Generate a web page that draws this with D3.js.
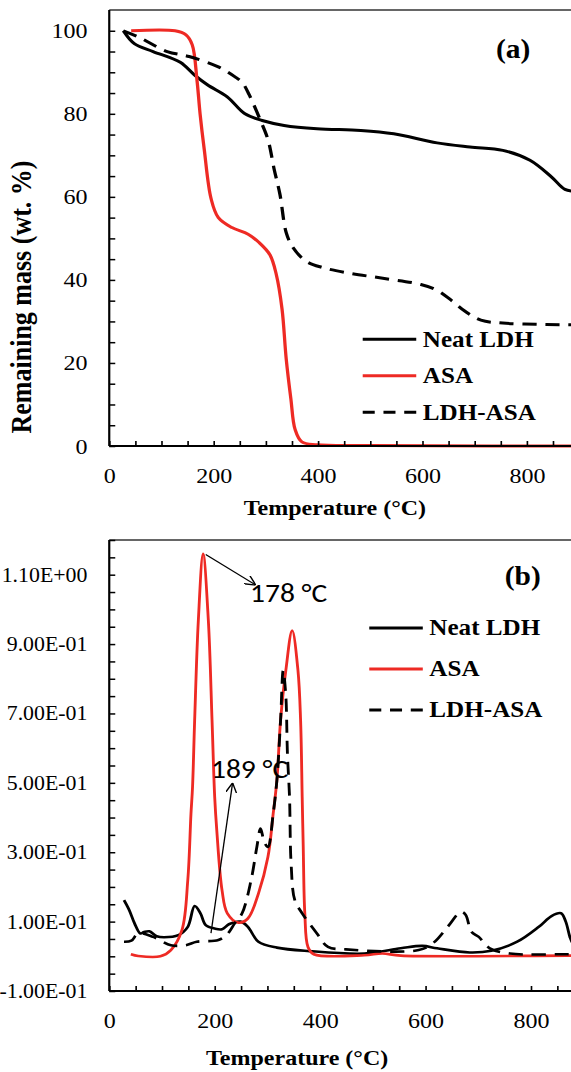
<!DOCTYPE html>
<html><head><meta charset="utf-8">
<script src="https://cdn.jsdelivr.net/npm/d3@7"></script>
<style>body{margin:0;background:#fff}svg{display:block}</style>
</head><body>
<script>
// ---------- data: panel (a) TGA (temperature °C, remaining mass wt.%) ----------
const neatLDH_TGA = [[27,100],[48,96.9],[84,95],[136,92.4],[163,89.4],[188,87],[226,84.1],[260,80],[293,78.4],[335,77.2],[398,76.4],[482,76],[545,75.2],[628,73],[691,72],[754,71.2],[806,68.8],[848,64.7],[873,61.8],[900,61.2],[990,61]];
const ASA_TGA = [[42,100],[126,100],[147,99],[159,96.6],[168,88.2],[174,80],[182,71.4],[195,59.6],[209,55],[235,52.6],[266,51],[287,49],[308,46],[320,41.3],[331,33],[339,21],[348,11.3],[356,4],[369,1],[398,0.3],[500,0.1],[990,0]];
const LDHASA_TGA = [[27,100],[56,98.5],[111,95],[153,93.8],[209,91.3],[241,88.9],[255,87.5],[268,84.6],[289,78.6],[304,73.8],[316,66.6],[327,60.6],[339,51.4],[352,47.8],[377,44.5],[408,43],[461,41.6],[524,40.4],[597,38.9],[628,37.5],[656,35],[681,32.5],[712,30.3],[754,29.6],[817,29.3],[880,29.2],[990,29]];
// ---------- data: panel (b) DTG ----------
const neatLDH_DTG = [[28,0.162],[38,0.133],[48,0.095],[59,0.066],[66,0.07],[76,0.072],[90,0.058],[104,0.055],[131,0.061],[149,0.085],[162,0.145],[173,0.124],[183,0.09],[200,0.08],[214,0.078],[228,0.093],[249,0.1],[263,0.085],[283,0.042],[318,0.025],[380,0.015],[484,0.008],[553,0.023],[594,0.03],[622,0.023],[684,0.011],[725,0.016],[774,0.042],[815,0.085],[839,0.116],[857,0.124],[866,0.1],[874,0.055],[880,0.035],[890,0.02]];
const ASA_DTG = [[41,0.006],[55,0.001],[97,0.0],[117,0.018],[138,0.076],[149,0.22],[155,0.41],[158,0.488],[162,0.68],[169,0.968],[178,1.16],[188,0.968],[195,0.68],[200,0.46],[204,0.363],[214,0.19],[224,0.124],[245,0.097],[263,0.109],[283,0.181],[301,0.286],[311,0.411],[318,0.507],[325,0.68],[335,0.824],[347,0.939],[358,0.824],[363,0.68],[366,0.46],[368,0.315],[371,0.124],[377,0.027],[388,0.006],[484,0.003],[518,0.008],[553,0.002],[870,0.002],[990,0.002]];
const LDHASA_DTG = [[28,0.042],[42,0.045],[55,0.066],[83,0.056],[117,0.032],[145,0.032],[166,0.042],[207,0.047],[224,0.064],[238,0.095],[252,0.124],[269,0.219],[280,0.315],[287,0.368],[294,0.33],[301,0.315],[311,0.411],[318,0.507],[325,0.68],[330,0.824],[335,0.75],[338,0.584],[342,0.459],[345,0.267],[352,0.162],[366,0.124],[394,0.066],[415,0.027],[449,0.02],[587,0.018],[615,0.039],[642,0.085],[667,0.128],[676,0.12],[687,0.071],[701,0.056],[722,0.023],[760,0.008],[870,0.006],[990,0.006]];

const seriesNames = ["Neat LDH","ASA","LDH-ASA"];
const seriesColors = ["#000000","#ee2a24","#000000"];
const seriesDash = [null,null,"13,8"];

const xTicksLabels = [0,200,400,600,800];
const yTicksA = [0,20,40,60,80,100];
const yTicksB = [-0.1,0.1,0.3,0.5,0.7,0.9,1.1];
const yTickLabelsB = ["-1.00E-01","1.00E-01","3.00E-01","5.00E-01","7.00E-01","9.00E-01","1.10E+00"];

const W=571,H=1072, SX=1.0925;   // the picture is stretched horizontally
const VW=W/SX;
const svg=d3.select("body").append("svg").attr("width",W).attr("height",H);
svg.append("rect").attr("width",W).attr("height",H).attr("fill","#fff");
const root=svg.append("g").attr("transform",`scale(${SX},1)`);
const serif="'Liberation Serif','Times New Roman',serif";

function panel(opts){
  const g=root.append("g");
  const x=d3.scaleLinear().domain([0,1000]).range(opts.xr);
  const y=d3.scaleLinear().domain(opts.yd).range(opts.yr);
  g.append("line").attr("x1",x(0)).attr("x2",VW+5).attr("y1",opts.yr[1]).attr("y2",opts.yr[1]).attr("stroke","#333").attr("stroke-width",1.5);
  const line=d3.line().x(d=>x(d[0])).y(d=>y(d[1])).curve(d3.curveCatmullRom.alpha(0.5));
  opts.data.forEach((s,i)=>{
    g.append("path").attr("d",line(s)).attr("fill","none").attr("stroke",seriesColors[i])
      .attr("stroke-width",opts.lw).attr("stroke-dasharray",seriesDash[i]).attr("stroke-linejoin","round");
  });
  const xa=d3.axisBottom(x).tickValues(d3.range(0,1001,50)).tickSize(-5).tickPadding(opts.xpad)
     .tickFormat(d=>xTicksLabels.includes(d)?d:"");
  const gx=g.append("g").attr("transform",`translate(0,${opts.yr[0]})`).call(xa);
  gx.select(".domain").attr("stroke-width",2).attr("d",`M${x(0)},0H${VW+5}`);
  gx.selectAll(".tick line").attr("stroke-width",1.5);
  gx.selectAll("text").attr("font-family",serif).attr("font-size",22).attr("fill","#000");
  const ya=d3.axisLeft(y).tickValues(opts.yMinor).tickSize(-5.5).tickPadding(opts.ypad)
     .tickFormat(opts.yfmt);
  const gy=g.append("g").attr("transform",`translate(${x(0)},0)`).call(ya);
  gy.select(".domain").attr("stroke-width",2).attr("d",`M0,${opts.yr[0]}V${opts.yr[1]}`);
  gy.selectAll(".tick line").attr("stroke-width",1.5);
  gy.selectAll("text").attr("font-family",serif).attr("font-size",opts.yfs).attr("fill","#000");
  g.append("text").attr("x",opts.lab[0]).attr("y",opts.lab[1]).text(opts.label)
    .attr("font-family",serif).attr("font-weight","bold").attr("font-size",27);
  g.append("text").attr("x",opts.xt[0]).attr("y",opts.xt[1]).attr("text-anchor","middle")
    .attr("font-family",serif).attr("font-weight","bold").attr("font-size",22).text("Temperature (°C)");
  seriesNames.forEach((n,i)=>{
    const ly=opts.leg[1]+i*opts.leg[2];
    g.append("line").attr("x1",opts.leg[0]).attr("x2",opts.leg[0]+49).attr("y1",ly).attr("y2",ly)
      .attr("stroke",seriesColors[i]).attr("stroke-width",3).attr("stroke-dasharray",i===2?"11,8":null);
    g.append("text").attr("x",opts.leg[0]+55).attr("y",ly+7.5).text(n)
      .attr("font-family",serif).attr("font-weight","bold").attr("font-size",23);
  });
  return {g,x,y};
}

// Panel (a)
const A=panel({xr:[100,577.8],yd:[0,105],yr:[446,10],data:[neatLDH_TGA,ASA_TGA,LDHASA_TGA],lw:3,
  xpad:21.5,ypad:20,yMinor:d3.range(0,101,5),yfmt:d=>yTicksA.includes(d)?d:"",yfs:22,
  label:"(a)",lab:[454,58],xt:[306.6,515],leg:[332,339.3,36.5]});
A.g.append("text").attr("transform","translate(28.5,297) rotate(-90)").attr("text-anchor","middle")
  .attr("font-family",serif).attr("font-weight","bold").attr("font-size",26).text("Remaining mass (wt. %)");

// Panel (b)
const B=panel({xr:[100,582.5],yd:[-0.1,1.2],yr:[991,540],data:[neatLDH_DTG,ASA_DTG,LDHASA_DTG],lw:2.6,
  xpad:21,ypad:20,yMinor:d3.range(-0.1,1.201,0.05).map(v=>+v.toFixed(2)),
  yfmt:d=>{const k=yTicksB.findIndex(t=>Math.abs(t-d)<1e-6);return k>=0?yTickLabelsB[k]:"";},yfs:20,
  label:"(b)",lab:[462,585],xt:[272,1065],leg:[338,628,41]});

// annotations
const defs=svg.append("defs");
defs.append("marker").attr("id","arr").attr("viewBox","0 0 10 10").attr("refX",10).attr("refY",5)
  .attr("markerWidth",10).attr("markerHeight",10).attr("markerUnits","userSpaceOnUse").attr("orient","auto")
  .append("path").attr("d","M0,0L10,5L0,10").attr("fill","none").attr("stroke","#000").attr("stroke-width",1.3);
const ann=[
  {from:[183,1.158],to:[278,1.07],text:"178 °C",tpos:[267,1.02]},
  {from:[193,0.067],to:[234,0.5],text:"189 °C",tpos:[193,0.513]}
];
ann.forEach(a=>{
  B.g.append("line").attr("x1",B.x(a.from[0])).attr("y1",B.y(a.from[1])).attr("x2",B.x(a.to[0])).attr("y2",B.y(a.to[1]))
    .attr("stroke","#000").attr("stroke-width",1.2).attr("marker-end","url(#arr)");
  B.g.append("text").attr("x",B.x(a.tpos[0])).attr("y",B.y(a.tpos[1])).text(a.text)
    .attr("font-family","Carlito,Lato,sans-serif").attr("font-size",27).attr("fill","#000");
});
</script>
</body></html>
